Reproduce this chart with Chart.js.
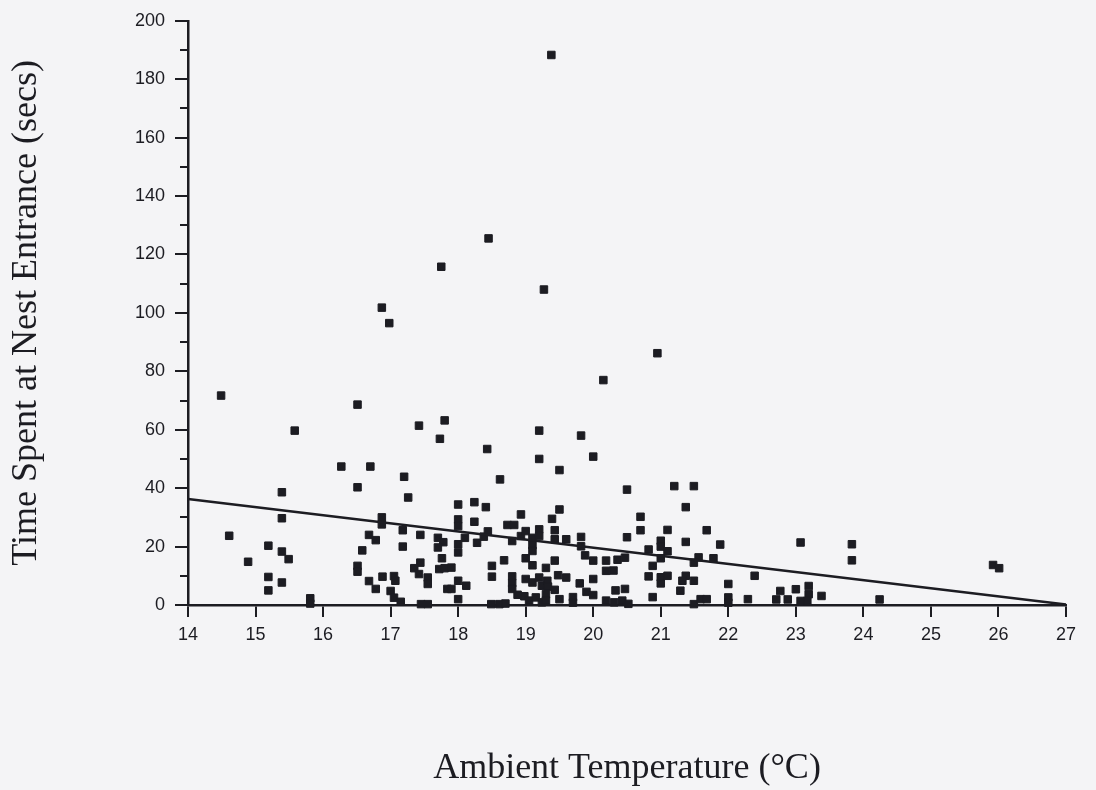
<!DOCTYPE html>
<html>
<head>
<meta charset="utf-8">
<script src="https://cdn.jsdelivr.net/npm/chart.js@4/dist/chart.umd.min.js"></script>
<style>
  html, body { margin: 0; padding: 0; background: #f4f4f6; }
  #wrap { width: 1096px; height: 790px; }
</style>
</head>
<body>
<div id="wrap"><canvas id="chart" width="1096" height="790"></canvas></div>
<script>
// ambient temperature (deg C) of each visit
const temps = [
  14.49, 14.61, 14.89, 15.19, 15.19, 15.19, 15.39, 15.39, 15.39, 15.49, 15.39, 15.58, 15.81, 15.81,
  16.27, 16.7, 16.51, 16.51, 17.2, 17.26, 16.87, 16.87, 17.18, 17.18, 16.68, 16.78, 16.58, 16.51,
  16.51, 16.68, 16.78, 16.88, 17.05, 17.07, 17.0, 17.05, 17.15, 16.87, 16.98,
  17.44, 17.7, 17.78, 17.7, 17.76, 17.72, 17.8, 17.44, 17.35, 17.42, 17.55, 17.55, 17.45, 17.55,
  17.84, 17.42, 17.8, 17.73, 17.75, 17.9, 17.9,
  18.0, 18.24, 18.41, 18.93, 18.0, 18.24, 18.73, 18.83, 18.0, 18.1, 18.28, 18.38, 18.44, 18.0,
  18.0, 18.8, 18.93, 18.68, 18.5, 18.5, 18.8, 18.8, 18.8, 18.88, 18.0, 18.12, 18.0, 18.98,
  18.49, 18.61, 18.7, 18.62, 18.43, 18.45, 19.0,
  19.1, 19.2, 19.2, 19.39, 19.1, 19.1, 19.0, 19.1, 19.0, 19.1, 19.2, 19.24, 19.32, 19.05, 19.15,
  19.24, 19.5, 19.43, 19.43, 19.6, 19.82, 19.82, 19.88, 20.0, 19.43, 19.3, 19.48, 19.6, 20.0,
  19.33, 19.43, 19.8, 19.9, 20.0, 19.3, 19.5, 19.7, 19.3, 19.7, 19.2, 19.82, 19.2, 20.0, 19.5,
  19.27, 19.38,
  20.15, 20.95, 20.5, 20.7, 20.7, 20.5, 20.82, 20.19, 20.36, 20.47, 20.19, 20.3, 20.33, 20.47,
  20.82, 20.88, 20.88, 20.19, 20.31, 20.43, 20.52, 21.0, 21.0, 21.0, 21.0, 21.0, 21.1, 21.1,
  21.2, 21.49, 21.37, 21.1, 21.68, 21.37, 21.88, 21.56, 21.49, 21.78, 21.37, 21.32, 21.49, 21.29,
  22.0, 22.0, 22.0, 21.49, 21.59, 21.68, 22.29, 22.39,
  22.77, 23.0, 23.19, 23.19, 23.38, 22.71, 22.88, 23.07, 23.17, 23.07, 23.83, 23.83, 24.24,
  25.92, 26.01
];

// time spent at nest entrance (secs), same order as temps
const times = [
  71.7, 23.7, 14.8, 20.3, 9.6, 5.0, 38.6, 29.7, 18.3, 15.7, 7.7, 59.7, 2.3, 0.5,
  47.4, 47.4, 68.6, 40.3, 43.9, 36.8, 30, 27.6, 25.6, 20, 24, 22.2, 18.7, 13.4,
  11.4, 8.2, 5.5, 9.7, 9.9, 8.3, 4.8, 2.5, 1.1, 101.8, 96.5,
  24, 23, 21.5, 19.7, 16, 12.3, 12.6, 14.5, 12.6, 10.6, 9.4, 7.2, 0.3, 0.3,
  5.5, 61.4, 63.2, 56.9, 115.8, 12.8, 5.5,
  34.4, 35.2, 33.5, 31, 29.3, 28.5, 27.4, 27.4, 27, 23, 21.3, 23.4, 25.2, 20.8,
  18, 21.9, 23.6, 15.3, 13.4, 9.7, 9.8, 7.5, 5.5, 3.5, 8.3, 6.6, 2, 3.0,
  0.3, 0.3, 0.5, 43, 53.4, 125.5, 25.3,
  23, 25.9, 23.6, 29.5, 20.5, 18.5, 16, 13.6, 8.9, 7.7, 9.4, 6.6, 8.3, 1.5, 2.6,
  0.9, 32.7, 25.6, 22.5, 22.5, 23.3, 20.1, 17, 15.2, 15.2, 12.7, 10.2, 9.4, 8.9,
  6.3, 5.2, 7.4, 4.5, 3.4, 3.7, 2, 2.7, 1.5, 0.8, 59.7, 58, 50, 50.8, 46.2,
  108, 188.3,
  77, 86.2, 39.5, 30.2, 25.6, 23.2, 19, 15.2, 15.5, 16.2, 11.7, 11.8, 5, 5.5,
  9.8, 13.4, 2.7, 1.5, 0.9, 1.5, 0.4, 22, 20, 16, 9.5, 7.4, 10, 18.4,
  40.7, 40.7, 33.5, 25.7, 25.6, 21.6, 20.7, 16.3, 14.5, 16, 10, 8.3, 8.3, 4.9,
  7.2, 2.6, 0.8, 0.3, 2, 2, 2, 10,
  4.8, 5.4, 6.5, 3.7, 3.1, 1.9, 1.9, 1.4, 1.4, 21.4, 20.8, 15.3, 1.9,
  13.7, 12.6
];

// fitted regression line end points
const fitX = [14, 27];
const fitY = [36.3, 0.2];

const yMinorTicks = [10, 30, 50, 70, 90, 110, 130, 150, 170, 190];

const ink = "#1c1c22";

const points = temps.map((t, i) => ({ x: t, y: times[i] }));
const fitLine = fitX.map((t, i) => ({ x: t, y: fitY[i] }));

// paper background + short minor ticks on the y axis
const paper = {
  id: "paper",
  beforeDraw(chart) {
    const ctx = chart.ctx;
    ctx.save();
    ctx.fillStyle = "#f4f4f6";
    ctx.fillRect(0, 0, chart.width, chart.height);
    ctx.restore();
  },
  afterDraw(chart) {
    const y = chart.scales.y;
    const ctx = chart.ctx;
    ctx.save();
    ctx.strokeStyle = ink;
    ctx.lineWidth = 2;
    yMinorTicks.forEach((v) => {
      const py = Math.round(y.getPixelForValue(v));
      ctx.beginPath();
      ctx.moveTo(y.right - 8, py);
      ctx.lineTo(y.right, py);
      ctx.stroke();
    });
    ctx.restore();
  },
};

const ctx = document.getElementById("chart").getContext("2d");
const chart = new Chart(ctx, {
  type: "scatter",
  data: {
    datasets: [
      {
        label: "fit",
        type: "line",
        data: fitLine,
        borderColor: ink,
        borderWidth: 2.5,
        pointRadius: 0,
        fill: false,
        clip: false,
      },
      {
        label: "visits",
        data: points,
        pointStyle: "rect",
        pointRadius: 5.3,
        pointHoverRadius: 5.3,
        backgroundColor: ink,
        borderColor: ink,
        borderWidth: 1,
        clip: false,
      },
    ],
  },
  options: {
    responsive: false,
    animation: false,
    events: [],
    layout: { padding: { top: 19, right: 30, left: 0, bottom: 0 } },
    plugins: {
      legend: { display: false },
      tooltip: { enabled: false },
    },
    scales: {
      x: {
        type: "linear",
        min: 14,
        max: 27,
        afterFit(scale) {
          scale.height = 185;
        },
        ticks: {
          stepSize: 1,
          color: ink,
          padding: 7,
          font: { family: "'Liberation Sans', Arial, sans-serif", size: 18 },
        },
        grid: {
          drawOnChartArea: false,
          drawTicks: true,
          tickLength: 12,
          color: ink,
          lineWidth: 2,
        },
        border: { display: true, color: ink, width: 2.5 },
        title: {
          display: true,
          text: "Ambient Temperature (°C)",
          color: ink,
          padding: { top: 0, bottom: 0 },
          font: { family: "'Liberation Serif', 'Times New Roman', serif", size: 36 },
        },
      },
      y: {
        type: "linear",
        min: 0,
        max: 200,
        afterFit(scale) {
          scale.width = 188;
        },
        ticks: {
          stepSize: 20,
          color: ink,
          padding: 10,
          font: { family: "'Liberation Sans', Arial, sans-serif", size: 18 },
        },
        grid: {
          drawOnChartArea: false,
          drawTicks: true,
          tickLength: 13,
          color: ink,
          lineWidth: 2,
        },
        border: { display: true, color: ink, width: 2.5 },
        title: {
          display: true,
          text: "Time Spent at Nest Entrance (secs)",
          color: ink,
          padding: { top: 5, bottom: 0 },
          font: { family: "'Liberation Serif', 'Times New Roman', serif", size: 36 },
        },
      },
    },
  },
  plugins: [paper],
});
</script>
</body>
</html>
